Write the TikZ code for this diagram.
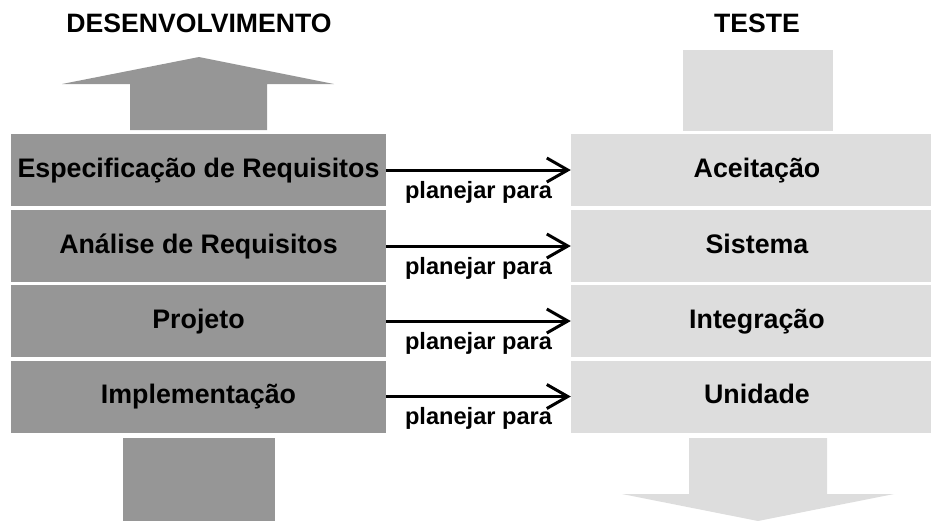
\documentclass[tikz,border=0pt]{standalone}
\usepackage{fontspec}
\setmainfont{Liberation Sans}
\usetikzlibrary{arrows.meta}
\definecolor{devgray}{RGB}{150,150,150}
\definecolor{testgray}{RGB}{221,221,221}
\tikzset{
  devbox/.style={rectangle, fill=devgray, inner sep=0pt, minimum width=375pt, minimum height=72pt,
    font=\fontsize{26.8}{30}\selectfont\bfseries, text height=19pt, text depth=4.6pt},
  testbox/.style={devbox, fill=testgray, minimum width=372pt},
  title/.style={font=\fontsize{26.6}{30}\selectfont\bfseries, anchor=base, inner sep=0pt},
  planarrow/.style={line width=3pt, -{Straight Barb[length=21pt,width=24pt]}},
  planlabel/.style={font=\fontsize{23.6}{28}\selectfont\bfseries, anchor=base, inner sep=0pt}
}
\begin{document}
\begin{tikzpicture}[x=1pt,y=-1pt]
\useasboundingbox (0,0) rectangle (931,520);
% titles
\node[title] (tdev) at (199,32) {DESENVOLVIMENTO};
\node[title] (ttest) at (757,32) {TESTE};
% big arrows
\fill[devgray] (62,84) -- (199,57) -- (334,84) -- (267,84) -- (267,130) -- (130,130) -- (130,84) -- cycle;
\fill[devgray] (123,438) rectangle (275,522);
\fill[testgray] (683,50) rectangle (833,131);
\fill[testgray] (689,438) -- (827,438) -- (827,494) -- (894,494) -- (758,521) -- (622,494) -- (689,494) -- cycle;
% boxes
\node[devbox] (l1) at (198.5,170) {Especificação de Requisitos};
\node[devbox] (l2) at (198.5,246) {Análise de Requisitos};
\node[devbox] (l3) at (198.5,321) {Projeto};
\node[devbox] (l4) at (198.5,396.5) {Implementação};
\node[testbox] (r1) at (757,170) {Aceitação};
\node[testbox] (r2) at (757,246) {Sistema};
\node[testbox] (r3) at (757,321) {Integração};
\node[testbox] (r4) at (757,396.5) {Unidade};
% connectors
\foreach \i in {1,2,3,4}{
  \draw[planarrow] (l\i.east) -- (r\i.west) node[planlabel, midway, yshift=-28pt] (p\i) {planejar para};
}
\end{tikzpicture}
\end{document}
